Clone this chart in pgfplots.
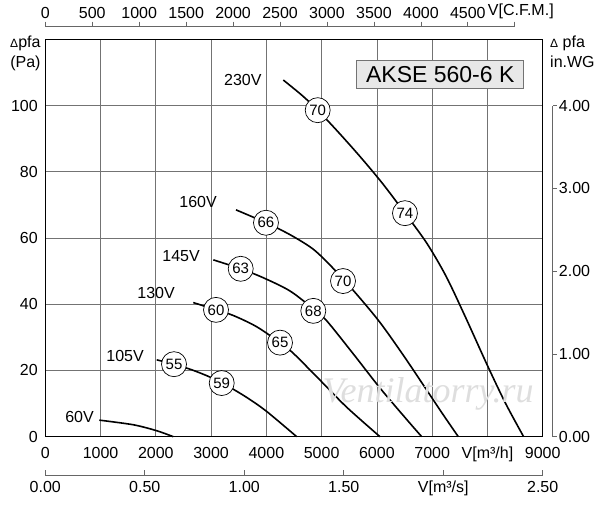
\documentclass[border=0pt]{standalone}
\usepackage{fontspec}
\setmainfont{Liberation Sans}
\newfontfamily\wmfont{Liberation Serif}
\usepackage{pgfplots}
\pgfplotsset{compat=1.18}
\newcommand{\tf}{\fontsize{16bp}{19bp}\selectfont}
\begin{document}
\tf
\begin{tikzpicture}
\useasboundingbox (-45.3bp,-68.3bp) rectangle (554.7bp,436.7bp);
% main axis
\begin{axis}[at={(0,0)}, anchor=south west, scale only axis,
  width=497.4bp, height=397.4bp,
  xmin=0, xmax=9000, ymin=0, ymax=120,
  xtick={0,1000,...,9000},
  xticklabels={0,1000,2000,3000,4000,5000,6000,7000,{V[m³/h]},9000},
  ytick={0,20,...,100},
  yticklabels={0,20,40,60,80,100},
  grid=major, grid style={black!55, line width=0.7bp},
  axis line style={black, line width=1.5bp},
  major tick length=0pt,
  tick label style={font=\tf},
  xticklabel style={yshift=-5bp},
  yticklabel style={xshift=-2bp},
  clip=false]
\addplot[black, line width=1.6bp, smooth] coordinates {(977,5.0) (1593,3.6) (2016,1.8) (2316,0)};
\addplot[black, line width=1.6bp, smooth] coordinates {(2016,23.2) (2329,21.9) (2650,20.2) (2980,18.0) (3300,15.3) (3650,11.8) (4000,7.7) (4549,0)};
\addplot[black, line width=1.6bp, smooth] coordinates {(2678,40.5) (3089,38.3) (3402,36.6) (3825,33.2) (4247,28.4) (4487,25.2) (4970,17.1) (5454,8.9) (6056,0)};
\addplot[black, line width=1.6bp, smooth] coordinates {(3040,53.4) (3536,50.7) (3944,48.0) (4428,44.0) (4849,38.6) (5092,35.0) (5573,25.0) (6056,14.7) (6539,5.2) (6811,0)};
\addplot[black, line width=1.6bp, smooth] coordinates {(3450,68.5) (3993,64.6) (4428,61.0) (4849,56.6) (5211,50.8) (5634,43.0) (6056,34.5) (6478,24.6) (6840,15.6) (7201,6.6) (7473,0)};
\addplot[black, line width=1.6bp, smooth] coordinates {(4306,107.7) (4650,103.0) (4929,98.6) (5300,92.0) (5700,84.5) (6100,76.5) (6508,67.5) (6900,58.5) (7250,48.5) (7600,36.2) (8000,21.5) (8330,10.0) (8655,0)};
% circled efficiency labels
\addplot[draw=none, mark=none, nodes near coords, point meta=explicit symbolic,
  every node near coord/.style={circle, draw=black, line width=0.7bp, fill=white,
  inner sep=0pt, minimum size=25bp, anchor=center, font=\fontsize{15bp}{17bp}\selectfont}]
  table[meta=l] {
x y l
4929 98.6 70
6508 67.5 74
3993 64.6 66
5387 47.0 70
3536 50.7 63
4849 38.0 68
3089 38.3 60
4247 28.4 65
2329 21.9 55
3192 16.2 59
};
% voltage labels
\node[anchor=east, inner sep=0pt, font=\tf] at (axis cs:3916,107.7) {230V};
\node[anchor=east, inner sep=0pt, font=\tf] at (axis cs:3107,71.0) {160V};
\node[anchor=east, inner sep=0pt, font=\tf] at (axis cs:2799,54.4) {145V};
\node[anchor=east, inner sep=0pt, font=\tf] at (axis cs:2347,43.3) {130V};
\node[anchor=east, inner sep=0pt, font=\tf] at (axis cs:1786,24.5) {105V};
\node[anchor=east, inner sep=0pt, font=\tf] at (axis cs:881,5.9) {60V};
\end{axis}
% watermark
\node[anchor=base, text=black!13, font=\wmfont\itshape\fontsize{36bp}{40bp}\selectfont] at (382.7bp,34.7bp) {Ventilatorry.ru};
% title box
\node[draw=black!55, fill=black!9, line width=0.8bp, minimum width=167bp, minimum height=28bp, inner sep=0pt, font=\fontsize{23bp}{26bp}\selectfont] at (395bp,362.5bp) {AKSE 560-6 K};
% axis names
\node[anchor=east, inner sep=0pt, font=\tf] at (-4.6bp,393.4bp) {{\fontsize{12bp}{12bp}\selectfont Δ}pfa};
\node[anchor=east, inner sep=0pt, font=\tf] at (-4.6bp,373.7bp) {(Pa)};
\node[anchor=west, inner sep=0pt, font=\tf] at (504.7bp,393.4bp) {{\fontsize{12bp}{12bp}\selectfont Δ} pfa};
\node[anchor=west, inner sep=0pt, font=\tf] at (504.7bp,375bp) {in.WG};
% top CFM axis
\begin{axis}[at={(0,409bp)}, anchor=south west, scale only axis,
  width=469.5bp, height=1bp, xmin=0, xmax=5000, ymin=0, ymax=1,
  axis x line*=top, hide y axis,
  x axis line style={-, black!60, line width=0.8bp},
  xtick={0,500,...,5000},
  xticklabels={0,500,1000,1500,2000,2500,3000,3500,4000,4500,{\hspace*{12bp}V[C.F.M.]}},
  tick align=outside, major tick length=5bp,
  tick style={black!60, line width=0.8bp},
  tick label style={font=\tf, inner sep=1bp},
  xticklabel style={yshift=2bp}]
\addplot[draw=none] coordinates {(0,0)};
\end{axis}
% bottom m3/s axis
\begin{axis}[at={(0,-38.3bp)}, anchor=south west, scale only axis,
  width=497.4bp, height=1bp, xmin=0, xmax=2.5, ymin=0, ymax=1,
  axis x line*=bottom, hide y axis,
  x axis line style={-, black!60, line width=0.8bp},
  xtick={0,0.5,1,1.5,2,2.5},
  xticklabels={0.00,0.50,1.00,1.50,{V[m³/s]},2.50},
  tick align=inside, major tick length=5bp,
  tick style={black!60, line width=0.8bp},
  tick label style={font=\tf, inner sep=2bp},
  xticklabel style={yshift=-4bp}]
\addplot[draw=none] coordinates {(0,0)};
\end{axis}
% right in.WG axis
\begin{axis}[at={(507.4bp,0)}, anchor=south east, scale only axis,
  width=1bp, height=331bp, xmin=0, xmax=1, ymin=0, ymax=4,
  axis y line*=right, hide x axis,
  y axis line style={-, black!60, line width=0.8bp},
  ytick={0,1,2,3,4},
  yticklabels={0.00,1.00,2.00,3.00,4.00},
  tick align=outside, major tick length=4bp,
  tick style={black!60, line width=0.8bp},
  tick label style={font=\tf, inner sep=2bp}]
\addplot[draw=none] coordinates {(0,0)};
\end{axis}
\end{tikzpicture}
\end{document}
